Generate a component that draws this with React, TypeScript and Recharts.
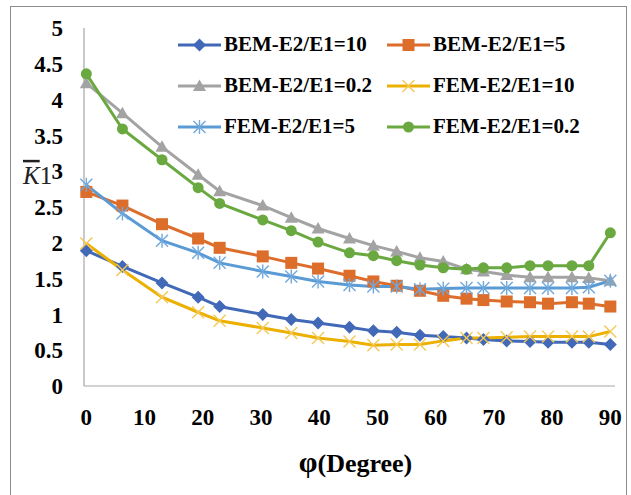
import { LineChart, Line, XAxis, YAxis, Legend } from "recharts";

// φ in degrees
const phi = [0, 6.2, 13, 19.2, 22.9, 30.3, 35.2, 39.8, 45.2, 49.3, 53.3, 57.3, 61.3, 65.3, 68.2, 72.2, 76.2, 79.3, 83.4, 86.3, 90];

const bem10 = [1.89, 1.67, 1.44, 1.24, 1.11, 1.0, 0.93, 0.88, 0.82, 0.77, 0.75, 0.71, 0.69, 0.67, 0.65, 0.63, 0.62, 0.61, 0.61, 0.61, 0.58];
const bem5 = [2.71, 2.52, 2.26, 2.06, 1.93, 1.81, 1.72, 1.64, 1.54, 1.46, 1.4, 1.33, 1.26, 1.22, 1.2, 1.18, 1.17, 1.15, 1.17, 1.15, 1.11];
const bem02 = [4.23, 3.81, 3.34, 2.95, 2.72, 2.52, 2.35, 2.2, 2.06, 1.96, 1.88, 1.79, 1.74, 1.63, 1.6, 1.55, 1.52, 1.52, 1.52, 1.51, 1.47];
const fem10 = [1.99, 1.62, 1.24, 1.03, 0.91, 0.81, 0.74, 0.67, 0.62, 0.57, 0.58, 0.58, 0.63, 0.67, 0.67, 0.68, 0.69, 0.69, 0.69, 0.69, 0.76];
const fem5 = [2.81, 2.41, 2.03, 1.86, 1.72, 1.6, 1.53, 1.46, 1.41, 1.39, 1.39, 1.35, 1.36, 1.37, 1.37, 1.37, 1.37, 1.37, 1.37, 1.38, 1.47];
const fem02 = [4.36, 3.59, 3.16, 2.77, 2.55, 2.32, 2.17, 2.01, 1.86, 1.82, 1.75, 1.69, 1.65, 1.63, 1.65, 1.65, 1.68, 1.68, 1.68, 1.68, 2.14];

const xTicks = [0, 10, 20, 30, 40, 50, 60, 70, 80, 90];
const yTicks = [0, 0.5, 1, 1.5, 2, 2.5, 3, 3.5, 4, 4.5, 5];

const data = phi.map((p, i) => ({
  phi: p,
  bem10: bem10[i],
  bem5: bem5[i],
  bem02: bem02[i],
  fem10: fem10[i],
  fem5: fem5[i],
  fem02: fem02[i],
}));

type MarkerType = "diamond" | "square" | "triangle" | "cross" | "star" | "circle";

const series: { key: string; name: string; color: string; marker: MarkerType; markColor: string }[] = [
  { key: "bem10", name: "BEM-E2/E1=10", color: "#4169B8", marker: "diamond", markColor: "#4169B8" },
  { key: "bem5", name: "BEM-E2/E1=5", color: "#DD6D2B", marker: "square", markColor: "#DD6D2B" },
  { key: "bem02", name: "BEM-E2/E1=0.2", color: "#A3A3A3", marker: "triangle", markColor: "#A3A3A3" },
  { key: "fem10", name: "FEM-E2/E1=10", color: "#EBB000", marker: "cross", markColor: "#F5C856" },
  { key: "fem5", name: "FEM-E2/E1=5", color: "#5B9BD5", marker: "star", markColor: "#6FA8DC" },
  { key: "fem02", name: "FEM-E2/E1=0.2", color: "#6AA840", marker: "circle", markColor: "#6AA840" },
];

const FONT = "'Liberation Serif', 'Times New Roman', serif";

function Marker({ type, cx, cy, color }: { type: MarkerType; cx: number; cy: number; color: string }) {
  if (cx == null || cy == null) return null;
  switch (type) {
    case "diamond":
      return <polygon points={`${cx},${cy - 6.5} ${cx + 6.5},${cy} ${cx},${cy + 6.5} ${cx - 6.5},${cy}`} fill={color} />;
    case "square":
      return <rect x={cx - 6} y={cy - 6} width={12} height={12} fill={color} />;
    case "triangle":
      return <polygon points={`${cx},${cy - 6.5} ${cx + 6.5},${cy + 5} ${cx - 6.5},${cy + 5}`} fill={color} />;
    case "circle":
      return <circle cx={cx} cy={cy} r={5.5} fill={color} />;
    case "cross":
      return (
        <g stroke={color} strokeWidth={1.4}>
          <line x1={cx - 6} y1={cy - 6} x2={cx + 6} y2={cy + 6} />
          <line x1={cx - 6} y1={cy + 6} x2={cx + 6} y2={cy - 6} />
        </g>
      );
    case "star":
      return (
        <g stroke={color} strokeWidth={1.4}>
          <line x1={cx - 6} y1={cy - 6} x2={cx + 6} y2={cy + 6} />
          <line x1={cx - 6} y1={cy + 6} x2={cx + 6} y2={cy - 6} />
          <line x1={cx} y1={cy - 7} x2={cx} y2={cy + 7} />
        </g>
      );
  }
  return null;
}

function LegendBox() {
  return (
    <div
      style={{
        display: "grid",
        gridTemplateColumns: "209px 200px",
        gridAutoRows: "41px",
        fontFamily: FONT,
        fontWeight: "bold",
        fontSize: 21,
        color: "#000",
      }}
    >
      {series.map((s) => (
        <div key={s.key} style={{ display: "flex", alignItems: "center", whiteSpace: "nowrap" }}>
          <svg width={44} height={16} style={{ marginRight: 2 }}>
            <line x1={0} y1={8} x2={43} y2={8} stroke={s.color} strokeWidth={3} />
            <Marker type={s.marker} cx={21.5} cy={8} color={s.markColor} />
          </svg>
          <span>{s.name}</span>
        </div>
      ))}
    </div>
  );
}

function XTitle(props: any) {
  const vb = props.viewBox || {};
  const cx = vb.x + vb.width / 2 + 6;
  return (
    <text x={cx} y={vb.y + 86} textAnchor="middle" fontFamily={FONT} fontWeight="bold" fill="#000">
      <tspan fontSize={30}>φ</tspan>
      <tspan fontSize={26}>(Degree)</tspan>
    </text>
  );
}

function YTitle(props: any) {
  const vb = props.viewBox || {};
  const y = vb.y + vb.height * 0.413 + 8;
  return (
    <text x={23} y={y} fontFamily={FONT} fontSize={25} fill="#222">
      <tspan fontStyle="italic" style={{ textDecoration: "overline" }}>K</tspan>
      <tspan>1</tspan>
    </text>
  );
}

export default function App() {
  const tickStyle = { fontFamily: FONT, fontWeight: "bold" as const, fontSize: 23, fill: "#000" };
  return (
    <div style={{ position: "absolute", left: 0, top: 0, width: 631, height: 495, overflow: "hidden", background: "#fff" }}>
      <div
        style={{
          position: "absolute",
          left: 10,
          top: 6,
          width: 617,
          height: 520,
          border: "1px solid #8c8c8c",
          boxSizing: "border-box",
        }}
      />
      <LineChart width={631} height={495} data={data} margin={{ top: 28, right: 16, bottom: 79, left: 24 }}>
        <XAxis
          type="number"
          dataKey="phi"
          domain={[-0.4, 90.8]}
          ticks={xTicks}
          interval={0}
          tickLine={false}
          tickSize={0}
          tickMargin={23}
          axisLine={{ stroke: "#A6A6A6", strokeWidth: 1.2 }}
          tick={tickStyle}
          height={30}
          label={<XTitle />}
        />
        <YAxis
          type="number"
          domain={[0, 5]}
          ticks={yTicks}
          interval={0}
          tickLine={false}
          tickSize={0}
          tickMargin={21}
          axisLine={{ stroke: "#A6A6A6", strokeWidth: 1.2 }}
          tick={tickStyle}
          width={60}
          label={<YTitle />}
        />
        <Legend
          layout="horizontal"
          verticalAlign="middle"
          align="center"
          content={() => <LegendBox />}
          wrapperStyle={{ position: "absolute", left: 178, top: 24, width: 430, right: "auto", bottom: "auto" }}
        />
        {series.map((s) => (
          <Line
            key={s.key}
            type="linear"
            dataKey={s.key}
            name={s.name}
            stroke={s.color}
            strokeWidth={3}
            isAnimationActive={false}
            dot={(p: any) => <Marker key={`${s.key}-${p.index}`} type={s.marker} cx={p.cx} cy={p.cy} color={s.markColor} />}
            activeDot={false}
          />
        ))}
      </LineChart>
    </div>
  );
}
